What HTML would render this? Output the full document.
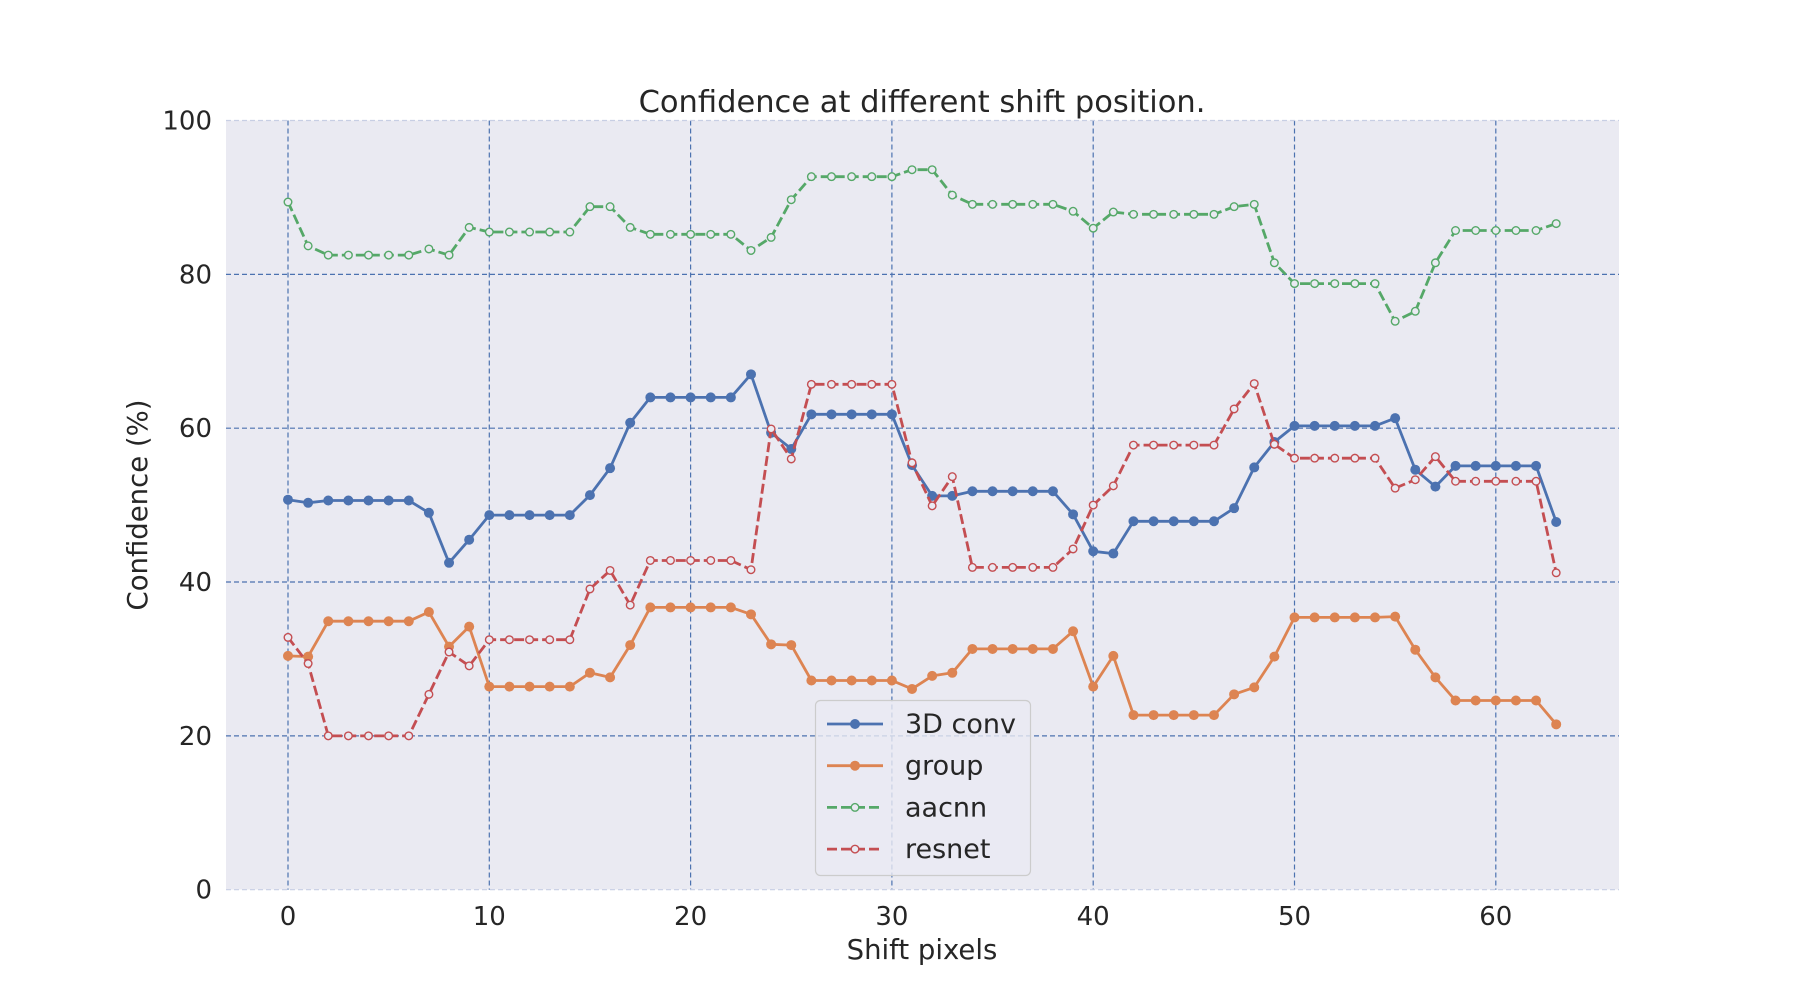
<!DOCTYPE html>
<html><head><meta charset="utf-8"><style>
body{margin:0;background:#fff;}
svg{display:block;font-family:"DejaVu Sans","Liberation Sans",sans-serif;}
</style></head><body>
<svg id="chart" width="1800" height="1000" viewBox="0 0 1800 1000">
<rect x="226" y="120.5" width="1393" height="769" fill="#eaeaf2"/>
<g id="grid"></g>
<g id="series"></g>
<g id="axes"></g>
<text x="922" y="112" font-size="30.5" text-anchor="middle" fill="#262626">Confidence at different shift position.</text>
<text x="922" y="959" font-size="27.5" text-anchor="middle" fill="#262626">Shift pixels</text>
<text x="147" y="505" font-size="27.5" text-anchor="middle" fill="#262626" transform="rotate(-90 147 505)">Confidence (%)</text>
<g id="legend">
<rect x="815.5" y="700.5" width="215" height="175" rx="5" fill="#eaeaf2" fill-opacity="0.8" stroke="#cccccc" stroke-width="1.2"/>
</g>
</svg>
<script>
const xTicks=[0,10,20,30,40,50,60];
const yTicks=[0,20,40,60,80,100];
const conv3d=[50.7,50.3,50.6,50.6,50.6,50.6,50.6,49.0,42.5,45.5,48.7,48.7,48.7,48.7,48.7,51.3,54.8,60.7,64.0,64.0,64.0,64.0,64.0,67.0,59.4,57.3,61.8,61.8,61.8,61.8,61.8,55.2,51.2,51.2,51.8,51.8,51.8,51.8,51.8,48.8,44.0,43.7,47.9,47.9,47.9,47.9,47.9,49.6,54.9,58.2,60.3,60.3,60.3,60.3,60.3,61.3,54.6,52.4,55.1,55.1,55.1,55.1,55.1,47.8];
const group=[30.4,30.3,34.9,34.9,34.9,34.9,34.9,36.1,31.6,34.2,26.4,26.4,26.4,26.4,26.4,28.2,27.6,31.8,36.7,36.7,36.7,36.7,36.7,35.8,31.9,31.8,27.2,27.2,27.2,27.2,27.2,26.1,27.8,28.2,31.3,31.3,31.3,31.3,31.3,33.6,26.4,30.4,22.7,22.7,22.7,22.7,22.7,25.4,26.3,30.3,35.4,35.4,35.4,35.4,35.4,35.5,31.2,27.6,24.6,24.6,24.6,24.6,24.6,21.5];
const aacnn=[89.4,83.7,82.5,82.5,82.5,82.5,82.5,83.3,82.5,86.1,85.5,85.5,85.5,85.5,85.5,88.8,88.8,86.1,85.2,85.2,85.2,85.2,85.2,83.1,84.8,89.7,92.7,92.7,92.7,92.7,92.7,93.6,93.6,90.3,89.1,89.1,89.1,89.1,89.1,88.2,86.0,88.1,87.8,87.8,87.8,87.8,87.8,88.8,89.1,81.5,78.8,78.8,78.8,78.8,78.8,73.9,75.2,81.5,85.7,85.7,85.7,85.7,85.7,86.6];
const resnet=[32.8,29.4,20.0,20.0,20.0,20.0,20.0,25.4,30.9,29.1,32.5,32.5,32.5,32.5,32.5,39.1,41.5,37.0,42.8,42.8,42.8,42.8,42.8,41.6,59.9,56.0,65.7,65.7,65.7,65.7,65.7,55.5,49.9,53.7,41.9,41.9,41.9,41.9,41.9,44.3,50.0,52.5,57.8,57.8,57.8,57.8,57.8,62.5,65.8,57.9,56.1,56.1,56.1,56.1,56.1,52.2,53.3,56.3,53.1,53.1,53.1,53.1,53.1,41.2];
const seriesNames=["3D conv","group","aacnn","resnet"];
const seriesData=[conv3d,group,aacnn,resnet];
const colors=["#4c72b0","#dd8452","#55a868","#c44e52"];
const dashed=[false,false,true,true];

const NS="http://www.w3.org/2000/svg";
const X0=288, XPU=20.13, Y0=889.7, YPU=7.692;
const xs=v=>X0+v*XPU, ys=v=>Y0-v*YPU;
function mk(tag,attrs,parent){const e=document.createElementNS(NS,tag);for(const k in attrs)e.setAttribute(k,attrs[k]);parent.appendChild(e);return e;}
const grid=document.getElementById('grid'),axes=document.getElementById('axes'),ser=document.getElementById('series'),leg=document.getElementById('legend');
xTicks.forEach(t=>{
  const l=mk('line',{x1:xs(t),x2:xs(t),y1:120.5,y2:889.7,stroke:'#4c72b0','stroke-width':1.2,'stroke-dasharray':'5,3'},grid);
  
  
  const tx=mk('text',{x:xs(t),y:925,'font-size':26,'text-anchor':'middle',fill:'#262626'},axes);
  tx.textContent=t;
  
  
});
yTicks.forEach(t=>{
  const l=mk('line',{x1:226,x2:1619,y1:ys(t),y2:ys(t),stroke:(t===0||t===100)?'#c8cfe4':'#4c72b0','stroke-width':1.2,'stroke-dasharray':'5,3'},grid);
  
  
  const tx=mk('text',{x:212,y:ys(t)+9,'font-size':26,'text-anchor':'end',fill:'#262626'},axes);
  tx.textContent=t;
  
  
});
seriesData.forEach((d,i)=>{
  const g=mk('g',{},ser);
  
  
  const pts=d.map((v,j)=>xs(j).toFixed(1)+','+ys(v).toFixed(1)).join(' ');
  const pl=mk('polyline',{points:pts,fill:'none',stroke:colors[i],'stroke-width':2.8,'stroke-linejoin':'round'},g);
  if(dashed[i])pl.setAttribute('stroke-dasharray','10,4');
  
  
  d.forEach((v,j)=>{
    const c=mk('circle',{cx:xs(j),cy:ys(v),r:dashed[i]?3.8:5,fill:dashed[i]?'#eaeaf2':colors[i],stroke:colors[i],'stroke-width':dashed[i]?1.4:0},g);
    
    
  });
  const ly=724+i*41.7;
  const ll=mk('line',{x1:827,x2:883,y1:ly,y2:ly,stroke:colors[i],'stroke-width':2.8},leg);
  if(dashed[i])ll.setAttribute('stroke-dasharray','10,4');
  
  
  const lc=mk('circle',{cx:855,cy:ly,r:dashed[i]?3.8:5,fill:dashed[i]?'#eaeaf2':colors[i],stroke:colors[i],'stroke-width':dashed[i]?1.4:0},leg);
  
  
  const lt=mk('text',{x:905,y:ly+9,'font-size':27,fill:'#262626'},leg);
  lt.textContent=seriesNames[i];
  
  
});
</script>
</body></html>
